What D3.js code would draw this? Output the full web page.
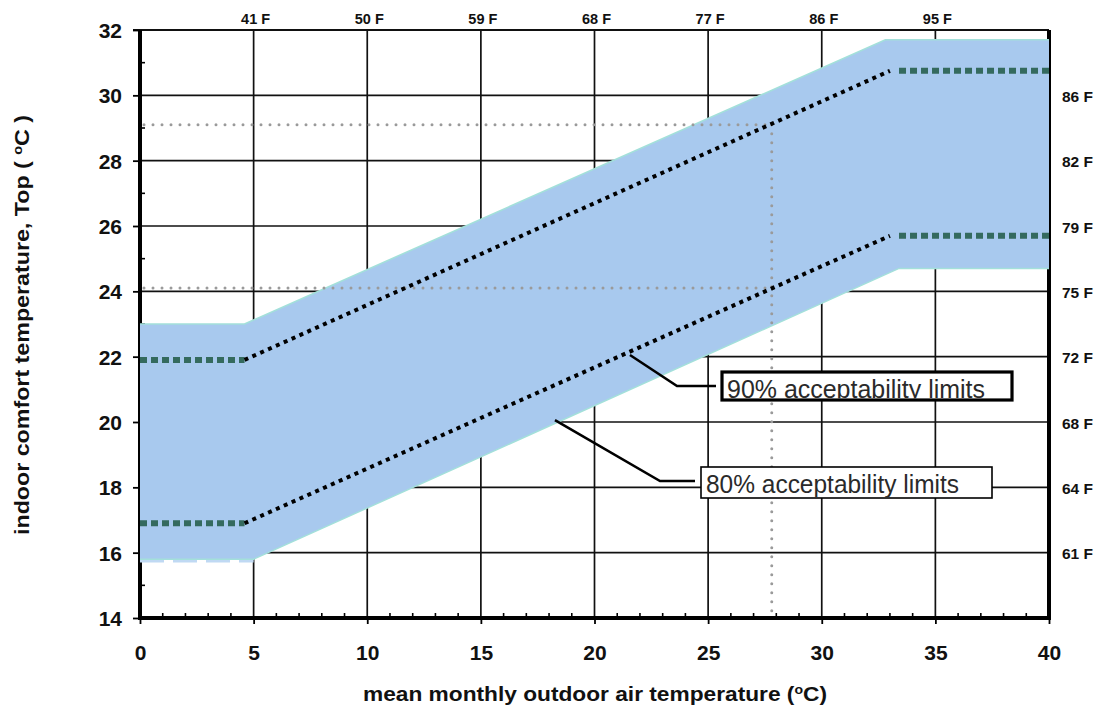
<!DOCTYPE html>
<html>
<head>
<meta charset="utf-8">
<script src="https://cdn.jsdelivr.net/npm/d3@7"></script>
<style>
  html, body { margin: 0; padding: 0; background: #fff; }
  svg { display: block; font-family: "Liberation Sans", Arial, sans-serif; }
</style>
</head>
<body>
<svg id="chart" width="1108" height="708"></svg>
<script>
// Outdoor temperature axis (°C) and indoor operative temperature axis (°C)
const xTicks = [0, 5, 10, 15, 20, 25, 30, 35, 40];
const yTicks = [14, 16, 18, 20, 22, 24, 26, 28, 30, 32];

// Fahrenheit equivalents: top axis at the outdoor grid lines, right axis at indoor ticks
const topFValues = [5, 10, 15, 20, 25, 30, 35];
const topFLabels = ["41 F", "50 F", "59 F", "68 F", "77 F", "86 F", "95 F"];
const rightFValues = [30, 28, 26, 24, 22, 20, 18, 16];
const rightFLabels = ["86 F", "82 F", "79 F", "75 F", "72 F", "68 F", "64 F", "61 F"];

// 80% acceptability band (outer edges): [outdoor, indoor]
const band80Upper = [[0, 23.0], [4.6, 23.0], [32.8, 31.7], [40, 31.7]];
const band80Lower = [[0, 15.8], [5.0, 15.8], [33.4, 24.7], [40, 24.7]];

// 90% acceptability limits: flat ends and sloped middle
const limit90UpperFlatLeft = [[0, 21.9], [4.6, 21.9]];
const limit90UpperSlope = [[4.6, 21.9], [33.0, 30.75]];
const limit90UpperFlatRight = [[33.4, 30.75], [40, 30.75]];
const limit90LowerFlatLeft = [[0, 16.9], [4.6, 16.9]];
const limit90LowerSlope = [[4.6, 16.9], [33.0, 25.7]];
const limit90LowerFlatRight = [[33.4, 25.7], [40, 25.7]];

// Reading example: outdoor 27.8 °C gives an indoor range of 24.1–29.1 °C
const exampleOutdoor = 27.8;
const exampleIndoor = [24.1, 29.1];

// Annotation anchors (data coordinates) and their captions
const labelTexts = ["90% acceptability limits", "80% acceptability limits"];
const labelAnchors = [[21.56, 22.05], [18.26, 20.06]];

const svg = d3.select("#chart");
const margin = { left: 140, right: 59, top: 30, bottom: 90 };
const W = 1108, H = 708;

const x = d3.scaleLinear().domain([0, 40]).range([margin.left, W - margin.right]);
const y = d3.scaleLinear().domain([14, 32]).range([H - margin.bottom, margin.top]);

const x0 = x(0), x1 = x(40), y0 = y(14), y1 = y(32);

// Grid lines
const grid = svg.append("g").attr("stroke", "#111").attr("stroke-width", 1.7);
grid.selectAll("line.v").data(xTicks.filter(d => d > 0 && d < 40)).join("line")
  .attr("x1", d => x(d)).attr("x2", d => x(d)).attr("y1", y1).attr("y2", y0);
grid.selectAll("line.h").data(yTicks.filter(d => d > 14 && d < 32)).join("line")
  .attr("x1", x0).attr("x2", x1).attr("y1", d => y(d)).attr("y2", d => y(d));
// top frame line, extends to the 32 tick
svg.append("line").attr("x1", x0 - 7).attr("x2", x1).attr("y1", y1).attr("y2", y1)
  .attr("stroke", "#111").attr("stroke-width", 2);

// Axes lines (thick)
svg.append("line").attr("x1", x0).attr("x2", x0).attr("y1", y1).attr("y2", y0 + 2)
  .attr("stroke", "#000").attr("stroke-width", 4);
svg.append("line").attr("x1", x1).attr("x2", x1).attr("y1", y1).attr("y2", y0 + 2)
  .attr("stroke", "#000").attr("stroke-width", 4);

// Left axis ticks and labels
const yAxis = d3.axisLeft(y).tickValues(yTicks).tickSize(7).tickFormat(d3.format("d"));
const gy = svg.append("g").attr("transform", `translate(${x0},0)`).call(yAxis);
gy.select(".domain").remove();
gy.selectAll(".tick line").attr("stroke", "#000").attr("stroke-width", 1.8);
gy.selectAll(".tick text").attr("font-size", 21).attr("font-weight", "bold").attr("fill", "#111")
  .attr("x", -18).attr("dy", "0.36em");
// minor inward ticks on left axis
svg.append("g").selectAll("line").data(d3.range(15, 32, 2)).join("line")
  .attr("x1", x0).attr("x2", x0 + 5).attr("y1", d => y(d)).attr("y2", d => y(d))
  .attr("stroke", "#000").attr("stroke-width", 1.6);

// 80% band
const interp = (pts, xv) => {
  for (let i = 0; i < pts.length - 1; i++) {
    const [xa, ya] = pts[i], [xb, yb] = pts[i + 1];
    if (xv >= xa && xv <= xb) return ya + (yb - ya) * (xv - xa) / (xb - xa);
  }
  return pts[pts.length - 1][1];
};
const bandXs = Array.from(new Set(band80Upper.map(d => d[0]).concat(band80Lower.map(d => d[0])))).sort((a, b) => a - b);
const bandData = bandXs.map(xv => [xv, interp(band80Upper, xv), interp(band80Lower, xv)]);
const area = d3.area().x(d => x(d[0])).y0(d => y(d[2])).y1(d => y(d[1]));
svg.append("path").datum(bandData).attr("d", area).attr("fill", "#a8c9ee");

const line = d3.line().x(d => x(d[0])).y(d => y(d[1]));
// faint teal rim on the band edges
svg.append("path").datum(band80Upper).attr("d", line)
  .attr("fill", "none").attr("stroke", "#a3e0da").attr("stroke-width", 1.6);
svg.append("path").datum(band80Lower).attr("d", line)
  .attr("fill", "none").attr("stroke", "#a3e0da").attr("stroke-width", 1.4);
svg.append("path").datum(band80Lower.slice(0, 2)).attr("d", line)
  .attr("fill", "none").attr("stroke", "#c0d9f3").attr("stroke-width", 2.5)
  .attr("stroke-dasharray", "24,9").attr("transform", "translate(0,2)");

// Bottom axis
const xAxis = d3.axisBottom(x).tickValues(xTicks).tickSize(6).tickFormat(d3.format("d"));
const gx = svg.append("g").attr("transform", `translate(0,${y0})`).call(xAxis);
gx.select(".domain").remove();
gx.selectAll(".tick line").attr("stroke", "#000").attr("stroke-width", 1.8);
gx.selectAll(".tick text").attr("font-size", 21).attr("font-weight", "bold").attr("fill", "#111")
  .attr("y", 42).attr("dy", 0);
svg.append("line").attr("x1", x0 - 2).attr("x2", x1 + 2).attr("y1", y0).attr("y2", y0)
  .attr("stroke", "#000").attr("stroke-width", 4);
svg.append("g").selectAll("line").data(d3.range(1, 40).filter(d => d % 5 !== 0)).join("line")
  .attr("x1", d => x(d)).attr("x2", d => x(d)).attr("y1", y0).attr("y2", y0 - 5)
  .attr("stroke", "#000").attr("stroke-width", 1.6);

// Example reading: gray dotted guides
const gray = svg.append("g").attr("stroke", "#9a9a9a").attr("stroke-width", 3)
  .attr("stroke-linecap", "round").attr("stroke-dasharray", "0,9").attr("fill", "none");
exampleIndoor.forEach(v => {
  gray.append("line").attr("x1", x0 + 4).attr("x2", x(exampleOutdoor)).attr("y1", y(v)).attr("y2", y(v));
});
gray.append("line").attr("x1", x(exampleOutdoor)).attr("x2", x(exampleOutdoor))
  .attr("y1", y(d3.max(exampleIndoor))).attr("y2", y0 - 4);

// 90% limits: teal dashes on the flat parts, black dots on the slope
[limit90UpperFlatLeft, limit90UpperFlatRight, limit90LowerFlatLeft, limit90LowerFlatRight].forEach(seg => {
  svg.append("path").datum(seg).attr("d", line).attr("fill", "none")
    .attr("stroke", "#346a5e").attr("stroke-width", 6).attr("stroke-dasharray", "7,4");
});
[limit90UpperSlope, limit90LowerSlope].forEach(seg => {
  svg.append("path").datum(seg).attr("d", line).attr("fill", "none")
    .attr("stroke", "#000").attr("stroke-width", 4).attr("stroke-dasharray", "4,4.6");
});

// Top Fahrenheit labels
svg.append("g").selectAll("text").data(topFValues).join("text")
  .attr("x", d => x(d) + 2).attr("y", 24).attr("text-anchor", "middle")
  .attr("font-size", 14.5).attr("font-weight", "bold").attr("fill", "#111")
  .text((d, i) => topFLabels[i]);

// Right Fahrenheit labels
svg.append("g").selectAll("text").data(rightFValues).join("text")
  .attr("x", x1 + 13).attr("y", d => y(d)).attr("dy", "0.42em")
  .attr("font-size", 15.5).attr("font-weight", "bold").attr("fill", "#111")
  .text((d, i) => rightFLabels[i]);

// Annotation callouts
const callouts = [
  { box: [722, 372, 290, 28], elbow: [677, 386], stroke: 3.2, base: 398, len: 258 },
  { box: [701, 467, 291, 31], elbow: [660, 481], stroke: 1.6, base: 493, len: 253 }
];
const defs = svg.append("defs");
callouts.forEach((c, i) => {
  const [bx, by, bw, bh] = c.box;
  const [ax, ay] = labelAnchors[i];
  svg.append("polyline")
    .attr("points", [[x(ax), y(ay)], c.elbow, [bx - 6, c.elbow[1]]].map(p => p.join(",")).join(" "))
    .attr("fill", "none").attr("stroke", "#000").attr("stroke-width", 2.6);
  svg.append("rect").attr("x", bx).attr("y", by).attr("width", bw).attr("height", bh)
    .attr("fill", "#fff").attr("stroke", "#000").attr("stroke-width", c.stroke);
  defs.append("clipPath").attr("id", "clip" + i)
    .append("rect").attr("x", bx).attr("y", by).attr("width", bw).attr("height", bh - c.stroke / 2);
  svg.append("text").attr("x", bx + 5).attr("y", c.base)
    .attr("clip-path", `url(#clip${i})`)
    .attr("font-size", 26).attr("fill", "#2a2a2a")
    .attr("textLength", c.len).attr("lengthAdjust", "spacingAndGlyphs")
    .text(labelTexts[i]);
});

// Axis titles
svg.append("text")
  .attr("transform", `translate(29,${325}) rotate(-90)`)
  .attr("text-anchor", "middle").attr("font-size", 21).attr("font-weight", "bold").attr("fill", "#111")
  .attr("textLength", 420).attr("lengthAdjust", "spacingAndGlyphs")
  .html('indoor comfort temperature, Top ( <tspan baseline-shift="super" font-size="13">o</tspan>C )');
svg.append("text")
  .attr("x", 595).attr("y", 701).attr("text-anchor", "middle")
  .attr("font-size", 21).attr("font-weight", "bold").attr("fill", "#111")
  .attr("textLength", 464).attr("lengthAdjust", "spacingAndGlyphs")
  .html('mean monthly outdoor air temperature (<tspan baseline-shift="super" font-size="13">o</tspan>C)');
</script>
</body>
</html>
